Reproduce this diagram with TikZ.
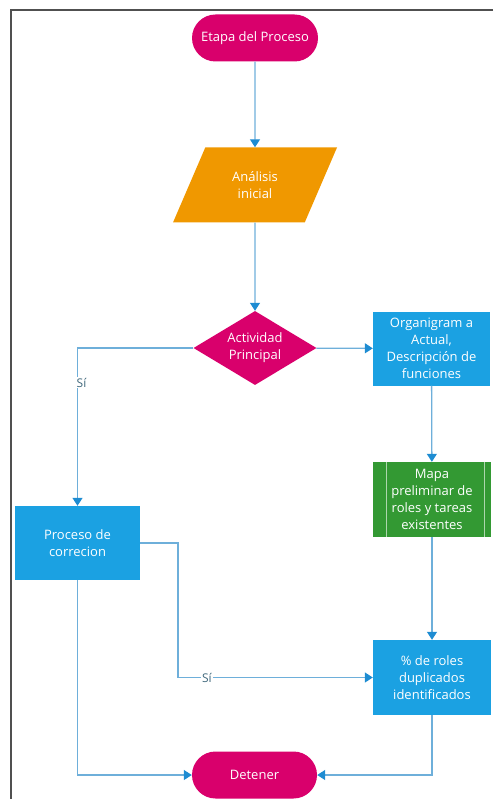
\documentclass[tikz,border=0pt]{standalone}
\usepackage{fontspec}
\setmainfont{Open Sans}
\usetikzlibrary{shapes.geometric,shapes.misc,arrows.meta}
\definecolor{rosa}{RGB}{217,0,108}
\definecolor{naranja}{RGB}{240,152,0}
\definecolor{azul}{RGB}{27,161,226}
\definecolor{verde}{RGB}{51,153,51}
\definecolor{linea}{RGB}{110,175,218}
\definecolor{punta}{RGB}{30,140,210}
\definecolor{marco}{RGB}{80,80,80}
\tikzset{
    base/.style={text=white, align=center, inner sep=0pt, font=\fontsize{13}{17}\selectfont},
    terminal/.style={base, rounded rectangle, fill=rosa, minimum width=126pt, minimum height=47pt},
    datos/.style={base, trapezium, trapezium left angle=40, trapezium right angle=140, trapezium stretches body=true, fill=naranja, minimum width=164pt, minimum height=75pt},
    decision/.style={base, diamond, aspect=1.66, fill=rosa, minimum width=123pt, minimum height=74pt},
    proceso/.style={base, rectangle, fill=azul, minimum width=117pt, minimum height=74pt},
    predef/.style={base, rectangle, fill=verde, minimum width=118pt, minimum height=75pt},
    flecha/.style={draw=linea, line width=1.3pt, -{Triangle[length=8pt, width=10pt, color=punta, fill=punta]}},
    etiqueta/.style={fill=white, text=marco!70!azul, inner sep=1pt, font=\fontsize{12}{13}\selectfont}
}
\begin{document}
\begin{tikzpicture}[x=1pt, y=-1pt]
            \useasboundingbox (0,0) rectangle (493,799);
            \draw [marco, line width=2pt] (493,10) -- (11,10) -- (11,799);
            \node [terminal] (inicio) at (255,38) {Etapa del Proceso};
            \node [datos] (analisis) at (255,185) {Análisis\\inicial};
            \node [decision] (actividad) at (255,348) {Actividad\\Principal};
            \node [proceso] (organigrama) at (431.5,348.5) {Organigram a\\Actual,\\Descripción de\\funciones};
            \node [predef] (mapa) at (432,499.5) {Mapa\\preliminar de\\roles y tareas\\existentes};
            \draw [white!60!verde, line width=1pt] ([xshift=14pt]mapa.north west) -- ([xshift=14pt]mapa.south west);
            \draw [white!60!verde, line width=1pt] ([xshift=-7pt]mapa.north east) -- ([xshift=-7pt]mapa.south east);
            \node [proceso, minimum width=125pt] (correccion) at (77.5,543) {Proceso de\\correcion};
            \node [proceso, minimum width=118pt, minimum height=75pt] (porcentaje) at (432,677.5) {\% de roles\\duplicados\\identificados};
            \node [terminal, minimum width=125pt] (detener) at (254.5,775) {Detener};
            \coordinate (codo) at (178,543);
            \draw [flecha] (inicio) -- (analisis);
            \draw [flecha] (analisis) -- (actividad);
            \draw [flecha] (actividad) -- (organigrama);
            \draw [flecha] (actividad.west) -| node [etiqueta, pos=0.61, xshift=4pt] {Sí} (correccion.north);
            \draw [flecha] (organigrama) -- (mapa);
            \draw [flecha] (mapa) -- (porcentaje);
            \draw [flecha] (correccion.east) -- (codo) |- node [etiqueta, pos=0.574] {Sí} (porcentaje.west);
            \draw [flecha] (correccion.south) |- (detener.west);
            \draw [flecha] (porcentaje.south) |- (detener.east);
        \end{tikzpicture}
\end{document}
